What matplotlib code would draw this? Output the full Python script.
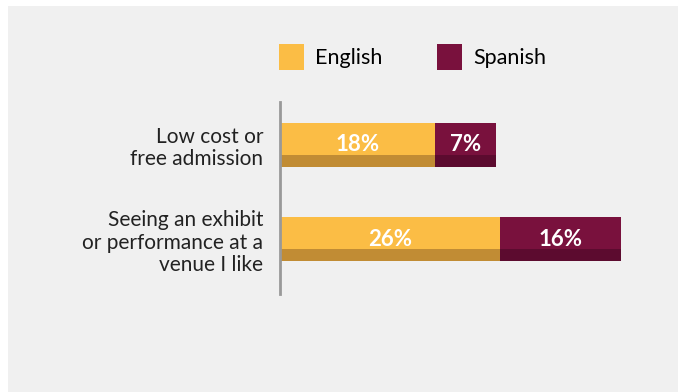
import matplotlib.pyplot as plt
from matplotlib.patches import Rectangle, Patch
import numpy as np

plt.rcParams['font.family'] = ['Lato', 'DejaVu Sans']

categories = ['Low cost or\nfree admission', 'Seeing an exhibit\nor performance at a\nvenue I like']
english = [18, 25.5]
spanish = [7, 14]
english_labels = ['18%', '26%']
spanish_labels = ['7%', '16%']

eng_color = '#fbbd45'
eng_shadow = '#c18c34'
spa_color = '#79113d'
spa_shadow = '#5c0b2f'
bg = '#f0f0f0'

W, H = 678, 392
fig = plt.figure(figsize=(W / 100, H / 100), dpi=100)
fig.patch.set_facecolor('white')
fig.patches.append(Rectangle((8 / W, 0), 1, (H - 6) / H, transform=fig.transFigure,
                             facecolor=bg, edgecolor='none', zorder=-5))

# axes placed in pixel terms: left edge at the axis line
ax = fig.add_axes([280 / W, (H - 294) / H, (668 - 280) / W, (294 - 102) / H])
ax.set_facecolor('none')
ax.set_zorder(2)

y = np.arange(len(categories))
h = 0.466
sh = 0.127

ax.barh(y, english, height=h, color=eng_color, edgecolor='none')
ax.barh(y, spanish, left=english, height=h, color=spa_color, edgecolor='none')
# darker band along the bottom of each bar
ax.barh(y + h / 2 - sh / 2, english, height=sh, color=eng_shadow, edgecolor='none')
ax.barh(y + h / 2 - sh / 2, spanish, left=english, height=sh, color=spa_shadow, edgecolor='none')

for i in range(len(categories)):
    ax.text(english[i] / 2, y[i], english_labels[i], ha='center', va='center',
            color='white', fontsize=16, fontweight='bold')
    ax.text(english[i] + spanish[i] / 2, y[i], spanish_labels[i], ha='center', va='center',
            color='white', fontsize=16, fontweight='bold')

ax.set_xlim(0, 45)
ax.set_ylim(1.577, -0.455)
ax.set_xticks([])
ax.set_yticks(y)
ax.set_yticklabels(categories, fontsize=15, color='#222222', linespacing=1.15)
ax.tick_params(axis='y', length=0, pad=12)
for s in ['top', 'right', 'bottom']:
    ax.spines[s].set_visible(False)
ax.spines['left'].set_color('#999999')
ax.spines['left'].set_linewidth(2)

handles = [Patch(facecolor=eng_color, label='English'),
           Patch(facecolor=spa_color, label='Spanish')]
fig.legend(handles=handles, loc='center left', bbox_to_anchor=(279 / W, 1 - 57 / H),
           ncol=2, frameon=False, fontsize=15.5, handlelength=1.17, handleheight=1.45,
           handletextpad=0.5, columnspacing=2.55, borderpad=0, borderaxespad=0)

fig.savefig('out.png', dpi=100, facecolor=fig.get_facecolor())
